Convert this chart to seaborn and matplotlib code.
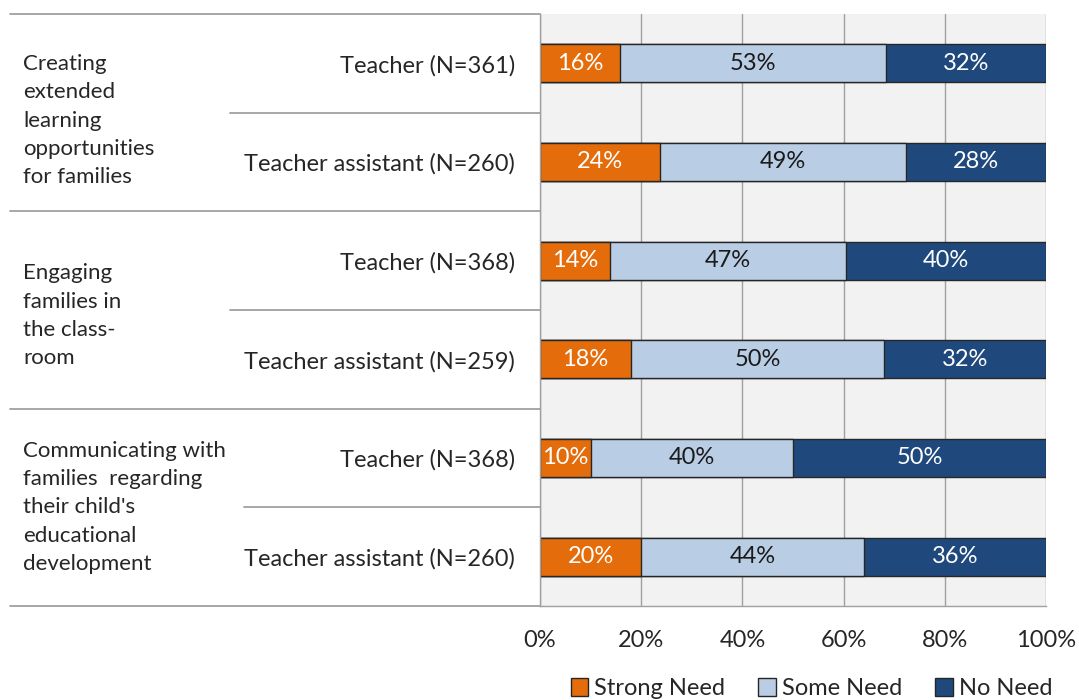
import numpy as np
import pandas as pd
import matplotlib
matplotlib.use("Agg")
import matplotlib.pyplot as plt
from matplotlib.patches import Patch
import seaborn as sns

# ---- data ----
row_labels = ["Teacher (N=361)", "Teacher assistant (N=260)",
              "Teacher (N=368)", "Teacher assistant (N=259)",
              "Teacher (N=368)", "Teacher assistant (N=260)"]
group_labels = ["Creating\nextended\nlearning\nopportunities\nfor families",
                "Engaging\nfamilies in\nthe class-\nroom",
                "Communicating with\nfamilies  regarding\ntheir child's\neducational\ndevelopment"]
strong_need = [16, 24, 14, 18, 10, 20]
some_need = [53, 49, 47, 50, 40, 44]
no_need = [32, 28, 40, 32, 50, 36]
series_names = ["Strong Need", "Some Need", "No Need"]
x_ticks = [0, 20, 40, 60, 80, 100]

colors = ["#E46C0A", "#B9CDE5", "#1F497D"]
text_colors = ["white", "#1a1a1a", "white"]

sns.set_theme(style="white")
plt.rcParams['font.family'] = ['Lato', 'DejaVu Sans']

s = np.array(strong_need, float)
m = np.array(some_need, float)
n = np.array(no_need, float)
tot = s + m + n
ps, pm, pn = s / tot * 100, m / tot * 100, n / tot * 100

df = pd.DataFrame({
    "row": np.arange(len(row_labels)),
    "c1": ps,
    "c2": ps + pm,
    "c3": ps + pm + pn,
})

fig = plt.figure(figsize=(10.79, 7.0), dpi=100)
ax = fig.add_axes([540 / 1079, 1 - 606 / 700, 506 / 1079, 592 / 700])
ax.set_facecolor("#F2F2F2")

bw = 0.385
for col, c in zip(["c3", "c2", "c1"], colors[::-1]):
    sns.barplot(data=df, x=col, y="row", orient="h", color=c, width=bw,
                edgecolor="#262626", linewidth=1.0, ax=ax, saturation=1)

ax.set_xlim(0, 100)
ax.set_ylim(5.5, -0.5)
ax.set_xlabel("")
ax.set_ylabel("")
ax.set_xticks(x_ticks)
ax.set_xticklabels([f"{v}%" for v in x_ticks], fontsize=17, color="#262626")
ax.set_yticks(range(len(row_labels)))
ax.set_yticklabels(row_labels, fontsize=17, color="#262626")
ax.tick_params(axis="y", length=0, pad=18)
ax.tick_params(axis="x", length=8, width=1, color="#A0A0A0", direction="out", pad=9)
ax.xaxis.grid(True, color="#A0A0A0", linewidth=1)
ax.set_axisbelow(True)
for sp in ["top", "right"]:
    ax.spines[sp].set_visible(False)
for sp in ["left", "bottom"]:
    ax.spines[sp].set_color("#A0A0A0")
    ax.spines[sp].set_linewidth(1)

# value labels
starts = [np.zeros(6), ps, ps + pm]
widths = [ps, pm, pn]
vals = [strong_need, some_need, no_need]
for k in range(3):
    for i in range(6):
        ax.text(starts[k][i] + widths[k][i] / 2, i, f"{vals[k][i]}%",
                ha="center", va="center", fontsize=17, color=text_colors[k])

# table lines on the left (x in axes fraction, y in data)
def px(xp):
    return (xp - 540) / 506

trans = ax.get_yaxis_transform()
line_kw = dict(color="#A0A0A0", linewidth=1.3, clip_on=False, transform=trans)
for yb in [-0.5, 1.5, 3.5, 5.5]:
    ax.plot([px(10), 0], [yb, yb], **line_kw)
for yb, xs in [(0.5, 230), (2.5, 230), (4.5, 244)]:
    ax.plot([px(xs), 0], [yb, yb], **line_kw)

# group labels
for g, (lab, yc) in enumerate(zip(group_labels, [0.58, 2.56, 4.5])):
    ax.text(px(23), yc, lab, ha="left", va="center", fontsize=16,
            color="#262626", linespacing=1.52, transform=trans)

handles = [Patch(facecolor=c, edgecolor="#262626", label=l) for c, l in zip(colors, series_names)]
fig.legend(handles=handles, loc="center", bbox_to_anchor=(0.752, 0.016), ncol=3,
           frameon=False, fontsize=17, handlelength=0.75, handleheight=0.75,
           handletextpad=0.25, columnspacing=1.4, labelcolor="#262626")

fig.savefig("out.png", dpi=100)
